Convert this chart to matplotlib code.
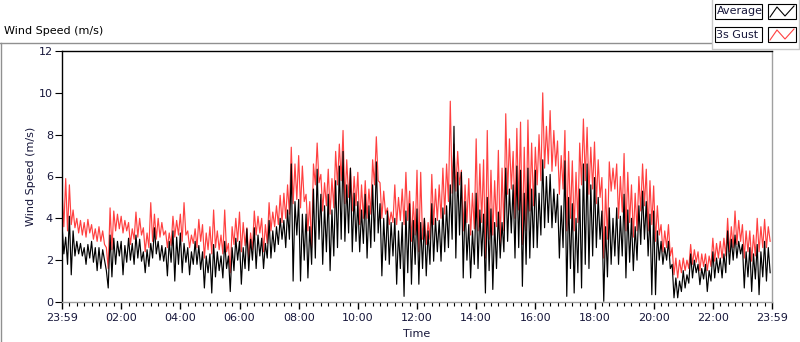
import numpy as np
import matplotlib
matplotlib.use("Agg")
import matplotlib.pyplot as plt
from matplotlib.ticker import MultipleLocator, FixedLocator, FixedFormatter
from matplotlib.lines import Line2D
from matplotlib.patches import Rectangle

# values, 16 samples per hour (one row per hour)
gust = [
    5.4, 3.6, 5.9, 3.4, 5.6, 3.7, 4.4, 3.55, 4.0, 3.3, 3.9, 3.2, 3.8, 3.1, 3.95, 3.3,
    3.7, 3.0, 3.5, 2.9, 3.6, 2.9, 3.4, 2.75, 2.6, 1.6, 4.5, 2.5, 4.35, 3.4, 4.2, 3.5,
    4.1, 3.3, 3.9, 3.4, 3.8, 2.75, 3.5, 3.0, 4.3, 3.1, 4.0, 3.2, 3.55, 2.4, 3.3, 2.6,
    4.75, 2.9, 4.2, 3.0, 4.0, 3.1, 3.8, 3.2, 3.4, 2.6, 3.3, 2.7, 4.1, 3.1, 3.9, 3.2,
    4.2, 2.9, 4.75, 3.2, 3.4, 2.6, 3.2, 2.8, 3.5, 2.6, 3.95, 2.9, 3.7, 2.1, 3.3, 2.5,
    3.6, 2.3, 4.4, 2.6, 3.4, 2.5, 3.2, 2.3, 4.4, 2.4, 2.8, 1.4, 3.6, 2.75, 4.0, 2.9,
    4.3, 2.4, 3.8, 2.7, 3.55, 2.1, 3.3, 2.5, 4.35, 3.2, 4.1, 3.3, 4.0, 2.4, 3.7, 2.8,
    4.75, 3.4, 4.3, 3.6, 4.6, 3.7, 5.1, 3.8, 5.2, 4.0, 5.6, 4.2, 7.4, 4.7, 6.6, 4.9,
    7.0, 4.5, 6.5, 4.8, 5.15, 3.4, 4.8, 2.6, 6.6, 5.6, 7.6, 5.7, 6.1, 4.35, 5.7, 4.6,
    6.35, 4.2, 5.9, 4.5, 7.2, 5.6, 7.55, 5.8, 8.2, 4.7, 6.8, 5.0, 6.4, 4.35, 6.0, 4.6,
    6.2, 3.7, 5.6, 4.0, 5.8, 4.0, 5.4, 4.2, 6.8, 5.6, 7.9, 5.8, 5.7, 4.0, 5.3, 4.2,
    4.5, 3.7, 4.3, 3.8, 5.6, 3.7, 5.0, 3.9, 5.4, 3.7, 6.2, 3.9, 5.3, 2.9, 4.8, 3.2,
    6.3, 2.4, 6.2, 3.0, 4.0, 2.75, 3.8, 3.0, 6.1, 3.7, 5.4, 3.9, 5.6, 4.0, 6.4, 4.2,
    6.6, 4.8, 9.6, 5.2, 7.55, 5.3, 7.2, 5.6, 6.3, 3.4, 5.6, 3.8, 5.9, 3.2, 5.2, 3.5,
    7.8, 3.4, 6.6, 3.8, 6.8, 2.1, 8.2, 3.0, 6.3, 3.2, 5.8, 3.6, 7.25, 2.75, 6.4, 3.4,
    9.0, 5.15, 7.8, 5.4, 7.2, 4.0, 8.3, 4.4, 8.6, 2.75, 7.4, 3.4, 8.7, 4.35, 7.6, 4.6,
    7.4, 5.6, 8.0, 5.8, 10.0, 6.4, 8.4, 6.6, 9.15, 6.25, 8.2, 6.5, 7.7, 5.15, 7.0, 5.4,
    8.2, 3.4, 7.2, 4.0, 6.75, 3.4, 6.2, 3.8, 7.6, 5.6, 8.75, 5.8, 8.35, 5.15, 7.4, 5.4,
    7.65, 4.7, 6.8, 5.0, 5.95, 2.1, 5.4, 3.0, 6.7, 5.3, 6.4, 5.4, 6.6, 4.0, 6.0, 4.3,
    7.1, 3.4, 6.2, 3.8, 5.6, 3.1, 5.2, 3.4, 6.0, 4.35, 6.6, 4.6, 6.35, 3.4, 5.8, 3.7,
    5.55, 2.9, 4.6, 3.2, 3.7, 2.4, 3.4, 2.6, 3.7, 2.2, 2.6, 1.3, 2.1, 1.15, 2.0, 1.4,
    2.1, 1.5, 2.0, 1.6, 2.75, 1.8, 2.5, 1.9, 2.4, 1.5, 2.3, 1.7, 2.3, 1.5, 2.2, 1.7,
    3.05, 1.95, 2.8, 2.1, 2.9, 2.1, 3.05, 2.2, 4.0, 2.4, 3.6, 2.6, 4.35, 2.75, 3.9, 2.9,
    3.7, 2.1, 3.4, 2.4, 3.4, 1.95, 3.2, 2.2, 4.0, 2.4, 3.6, 2.6, 3.95, 2.6, 3.6, 2.9,
]

average = [
    3.7, 2.3, 3.1, 1.8, 4.1, 1.3, 3.4, 2.2, 2.9, 2.3, 2.8, 2.2, 2.6, 1.8, 2.75, 2.1,
    2.9, 1.9, 2.6, 1.5, 2.6, 1.6, 2.5, 2.0, 1.5, 0.67, 3.2, 1.2, 3.05, 1.8, 2.9, 2.2,
    2.9, 1.3, 2.7, 1.9, 3.05, 2.0, 2.8, 1.8, 3.2, 2.1, 3.0, 1.95, 2.4, 1.4, 2.5, 1.7,
    2.8, 2.1, 3.55, 2.3, 2.9, 2.0, 2.7, 1.95, 2.6, 1.25, 2.9, 1.9, 3.4, 1.0, 3.1, 1.8,
    3.3, 1.4, 2.8, 1.9, 2.6, 1.3, 2.4, 1.8, 2.9, 1.8, 2.7, 1.55, 2.4, 0.67, 2.2, 1.4,
    2.3, 0.43, 2.75, 1.2, 2.4, 1.5, 2.2, 1.15, 2.9, 1.6, 2.2, 0.5, 2.6, 1.5, 3.05, 2.0,
    2.9, 0.85, 2.6, 1.6, 3.5, 1.5, 3.0, 2.0, 3.55, 1.6, 3.2, 2.2, 3.05, 1.6, 2.8, 2.1,
    3.9, 2.1, 3.4, 2.4, 3.6, 2.75, 4.0, 3.0, 3.9, 2.6, 4.4, 3.0, 6.6, 1.0, 4.8, 3.2,
    4.9, 1.0, 4.2, 2.0, 4.2, 1.15, 3.6, 1.8, 5.4, 2.1, 6.35, 3.0, 5.15, 1.8, 4.6, 2.4,
    5.15, 1.5, 4.4, 2.2, 5.8, 2.6, 6.5, 3.0, 7.2, 2.9, 5.6, 3.3, 6.4, 2.4, 5.2, 2.9,
    4.8, 2.4, 4.4, 2.8, 5.15, 2.1, 4.6, 2.6, 5.6, 2.9, 6.7, 3.3, 4.7, 1.25, 4.0, 2.0,
    4.35, 1.8, 3.8, 2.2, 4.0, 0.85, 3.4, 1.6, 3.8, 0.27, 4.35, 1.4, 4.7, 0.85, 3.9, 1.8,
    4.45, 0.85, 3.8, 1.6, 4.0, 1.25, 3.4, 1.8, 4.7, 1.95, 4.0, 2.4, 3.9, 1.95, 4.5, 2.4,
    4.6, 2.6, 5.6, 3.0, 8.4, 2.1, 6.2, 3.2, 6.2, 1.15, 4.8, 2.0, 3.7, 1.15, 3.4, 1.8,
    5.2, 1.6, 4.4, 2.2, 4.2, 0.43, 5.0, 1.5, 4.45, 0.6, 3.8, 1.6, 4.3, 2.1, 3.8, 2.4,
    6.4, 2.9, 5.4, 3.3, 5.6, 2.1, 6.5, 2.6, 6.3, 0.75, 5.2, 1.8, 6.4, 2.1, 5.4, 2.6,
    6.3, 2.6, 5.2, 3.2, 6.8, 3.55, 6.0, 3.8, 6.1, 3.55, 5.4, 3.8, 5.15, 2.1, 4.6, 2.6,
    6.75, 0.27, 5.0, 1.6, 4.7, 0.43, 4.0, 1.4, 5.4, 0.67, 6.6, 1.8, 6.6, 1.6, 5.6, 2.2,
    5.95, 2.6, 5.0, 3.0, 4.35, 0.03, 3.6, 1.2, 4.5, 1.8, 4.0, 2.2, 4.5, 1.8, 4.1, 2.2,
    5.15, 1.15, 4.4, 1.9, 4.0, 1.5, 3.6, 2.0, 4.6, 2.75, 5.3, 3.0, 4.8, 2.2, 4.2, 0.35,
    4.35, 0.35, 3.4, 2.0, 2.9, 1.8, 2.6, 2.0, 2.9, 1.6, 1.8, 0.2, 1.15, 0.2, 1.0, 0.5,
    1.5, 0.67, 1.3, 0.9, 2.3, 1.15, 2.0, 1.4, 1.8, 0.83, 1.6, 1.1, 1.8, 0.5, 1.5, 1.0,
    2.4, 1.15, 2.1, 1.4, 2.1, 1.15, 2.3, 1.4, 3.4, 1.8, 3.0, 2.0, 3.2, 2.1, 2.9, 2.3,
    2.75, 0.67, 2.4, 1.2, 2.6, 0.5, 2.3, 1.1, 2.75, 0.35, 2.4, 1.2, 2.9, 1.0, 2.6, 1.4,
]

tick_hours = [0, 2, 4, 6, 8, 10, 12, 14, 16, 18, 20, 22, 24]
tick_labels = ["23:59", "02:00", "04:00", "06:00", "08:00", "10:00", "12:00",
               "14:00", "16:00", "18:00", "20:00", "22:00", "23:59"]
y_ticks = [0, 2, 4, 6, 8, 10, 12]

W, H = 800, 342
TXT = "#16163a"


def fx(x):
    return x / W


def fy(y):
    return 1 - y / H


hours = np.arange(len(gust)) / 16.0

fig = plt.figure(figsize=(W / 100, H / 100), dpi=100)
ax = fig.add_axes([fx(62), fy(302), (772 - 62) / W, (302 - 51) / H])

ax.plot(hours, gust, color="#ff4040", lw=0.85)
ax.plot(hours, average, color="black", lw=0.85)

ax.set_xlim(0, 24)
ax.set_ylim(0, 12)
ax.xaxis.set_major_locator(FixedLocator(tick_hours))
ax.xaxis.set_major_formatter(FixedFormatter(tick_labels))
ax.xaxis.set_minor_locator(MultipleLocator(0.25))
ax.set_yticks(y_ticks)

ax.tick_params(axis="both", which="major", labelsize=8, colors=TXT, labelcolor=TXT)
ax.tick_params(axis="x", which="major", length=5, width=1, pad=3, color="black")
ax.tick_params(axis="x", which="minor", length=3, width=0.8, color="black")
ax.tick_params(axis="y", which="major", length=5, width=0.8, pad=1.5, color="black")

ax.spines["top"].set_color("black")
ax.spines["left"].set_color("black")
ax.spines["right"].set_color("#a0a0a0")
ax.spines["bottom"].set_color("#a0a0a0")
for s in ax.spines.values():
    s.set_linewidth(1)

ax.set_xlabel("Time", fontsize=8, color=TXT, labelpad=4)
ax.set_ylabel("Wind Speed (m/s)", fontsize=8, color=TXT, labelpad=2)

# outer frame and caption
fig.add_artist(Line2D([fx(0), fx(711)], [fy(43), fy(43)], color="#909090", lw=1))
fig.add_artist(Line2D([fx(1), fx(1)], [fy(43), fy(342)], color="#909090", lw=1))
fig.text(fx(4), fy(31), "Wind Speed (m/s)", fontsize=8, color="black", va="center")

# legend panel
fig.add_artist(Line2D([fx(711.5), fx(711.5), fx(799), fx(799)],
                      [fy(0), fy(49), fy(49), fy(0)], color="#c8c8c8", lw=1))
for name, top, col in [("Average", 4, "black"), ("3s Gust", 27, "#ff4040")]:
    fig.add_artist(Rectangle((fx(715), fy(top + 15)), 47 / W, 15 / H,
                             facecolor="white", edgecolor="black", lw=0.8))
    fig.text(fx(716.5), fy(top + 7.5), name, fontsize=8, color=TXT, va="center")
    fig.add_artist(Rectangle((fx(768), fy(top + 15)), 28 / W, 15 / H,
                             facecolor="white", edgecolor="black", lw=0.8))
    fig.add_artist(Line2D([fx(770), fx(777), fx(785), fx(794)],
                          [fy(top + 13), fy(top + 3), fy(top + 12), fy(top + 2)],
                          color=col, lw=0.8))

fig.savefig("out.png", dpi=100)
